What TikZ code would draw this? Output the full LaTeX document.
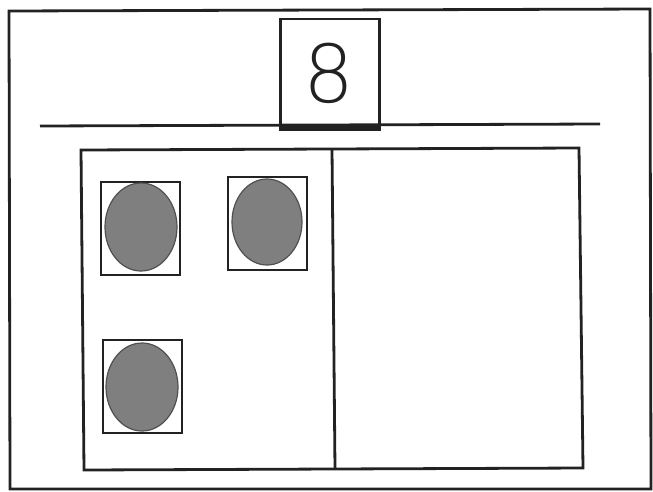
\documentclass[tikz,border=0pt]{standalone}
\usepackage{fontspec}
\newfontfamily\digitfont{DejaVu Sans ExtraLight}
\usetikzlibrary{shapes.geometric}
\definecolor{ovalfill}{HTML}{7F7F7F}
\definecolor{ovalline}{HTML}{505050}
\definecolor{inkc}{HTML}{222222}
\begin{document}
\begin{tikzpicture}[x=1pt,y=-1pt,
  frame/.style={draw=inkc,line width=2.8pt},
  cellbox/.style={draw=inkc,line width=2pt,fill=white},
  counter/.style={ellipse,draw=ovalline,line width=1.2pt,fill=ovalfill,minimum width=72pt,minimum height=88pt,inner sep=0pt}]
\useasboundingbox (0,0) rectangle (653,491);
% outer frame
\draw[frame] (9,11) -- (650,9) -- (651,489) -- (10,489) -- cycle;
% header line
\coordinate (hl) at (40,126);
\coordinate (hr) at (600,124);
\draw[frame] (hl) -- (hr);
% number box
\node[draw=inkc,line width=2.6pt,minimum width=99pt,minimum height=111pt,inner sep=0pt] (numbox) at (330,74.5) {};
\draw[inkc,line width=4pt] (282,128) -- (379,128);
\node[font=\digitfont\fontsize{80}{80}\selectfont,text=inkc] (num) at (329,73) {8};
% ten frame halves
\draw[frame] (81,150) -- (579,148) -- (583,468) -- (84,470) -- cycle;
\coordinate (dt) at (332,149);
\coordinate (db) at (335,469);
\draw[frame] (dt) -- (db);
% counters
\node[cellbox,minimum width=79pt,minimum height=93pt,inner sep=0pt] (s1) at (140,228) {};
\node[counter] (c1) at (141,227) {};
\node[cellbox,minimum width=79pt,minimum height=93pt,inner sep=0pt] (s2) at (267.5,223.5) {};
\node[counter,minimum width=70pt,minimum height=86pt] (c2) at (267,222) {};
\node[cellbox,minimum width=79pt,minimum height=93pt,inner sep=0pt] (s3) at (142.5,386.5) {};
\node[counter] (c3) at (142,387) {};
\end{tikzpicture}
\end{document}
